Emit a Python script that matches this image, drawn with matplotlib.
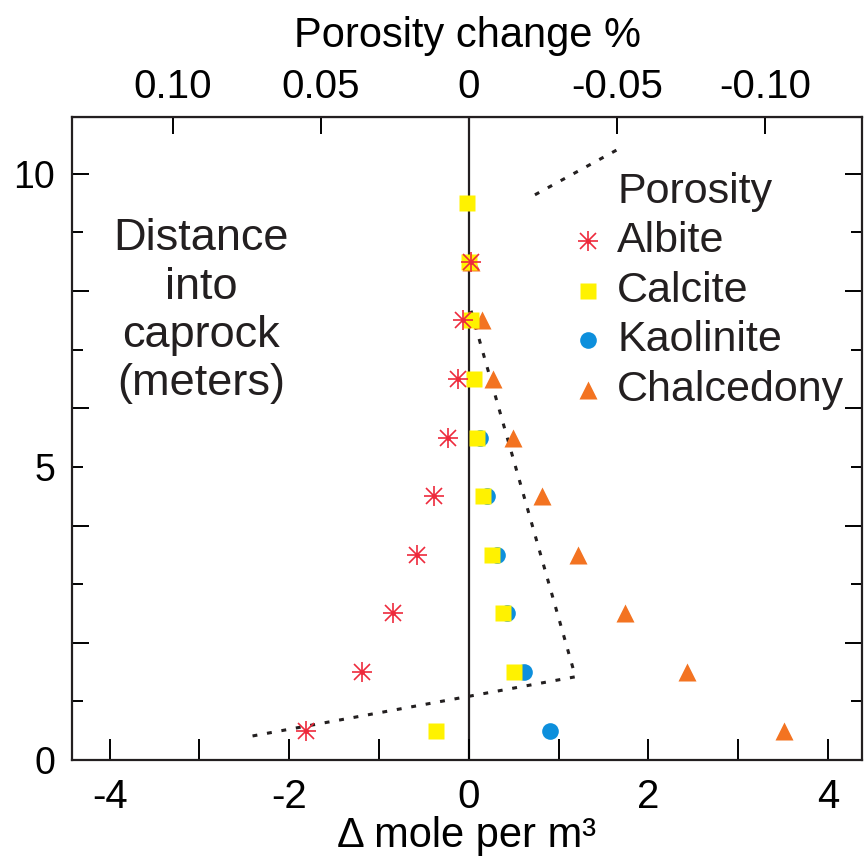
import matplotlib
matplotlib.use('Agg')
import matplotlib.pyplot as plt
from matplotlib.ticker import FixedLocator

plt.rcParams['axes.unicode_minus'] = False

NARROW = ['Liberation Sans Narrow', 'Liberation Sans', 'DejaVu Sans']
WIDE = ['Liberation Sans', 'DejaVu Sans']

# depth of each cell centre into the caprock (m)
depth = [0.5, 1.5, 2.5, 3.5, 4.5, 5.5, 6.5, 7.5, 8.5, 9.5]

# change in moles per m3 for each mineral
albite = [-1.81, -1.19, -0.84, -0.58, -0.39, -0.23, -0.12, -0.06, 0.02]
calcite = [-0.36, 0.50, 0.38, 0.26, 0.16, 0.09, 0.06, 0.03, 0.00, -0.02]
kaolinite = [0.91, 0.61, 0.43, 0.31, 0.20, 0.12]
chalcedony = [3.51, 2.43, 1.74, 1.22, 0.81, 0.49, 0.27, 0.15, 0.03]

# porosity change (%)
por_depth = [0.41, 1.42, 7.8]
por_change = [0.073, -0.036, 0.0]

por_ticks = [0.10, 0.05, 0, -0.05, -0.10]
por_labels = ['0.10', '0.05', '0', '-0.05', '-0.10']
x_ticks = [-4, -3, -2, -1, 0, 1, 2, 3, 4]
x_labels = ['-4', '', '-2', '', '0', '', '2', '', '4']

SCALE = 33.0  # mole/m3 units per 1 % porosity on the top axis


def por_to_mole(p):
    return -SCALE * p


def mole_to_por(x):
    return -x / SCALE


red = '#ee2a3c'
yellow = '#fff200'
blue = '#0d8fdc'
orange = '#f37321'
ink = '#231f20'
dots = (0, (1.6, 3.2))

fig = plt.figure(figsize=(8.64, 8.61), dpi=100)
ax = fig.add_axes([72 / 864, 1 - 760 / 861, 790 / 864, 643 / 861])
ax.set_xlim(-4.42, 4.38)
ax.set_ylim(0, 10.97)

ax.axvline(0, color=ink, lw=1.6, zorder=1)

# porosity profile (top axis)
ax.plot([por_to_mole(p) for p in por_change], por_depth, color=ink,
        lw=2.2, ls=dots, zorder=2)

ax.plot(kaolinite, depth[:len(kaolinite)], 'o', color=blue, ms=12, mec='none', zorder=3)
ax.plot(chalcedony, depth[:len(chalcedony)], '^', color=orange, ms=13, mec='none', zorder=4)
ax.plot(calcite, depth[:len(calcite)], 's', color=yellow, ms=11.5, mec='none', zorder=5)
ax.plot(albite, depth[:len(albite)], '+', color=red, ms=14, mew=1.2, zorder=6)
ax.plot(albite, depth[:len(albite)], 'x', color=red, ms=11, mew=1.2, zorder=6)
ax.plot(albite, depth[:len(albite)], '.', color=red, ms=5, zorder=6)

# bottom axis
ax.xaxis.set_major_locator(FixedLocator(x_ticks))
ax.set_xticklabels(x_labels, family=NARROW, fontsize=29)
ax.set_xlabel('Δ mole per m³', family=NARROW, fontsize=30, labelpad=0)

# left / right axis: long ticks on even, short on odd
ax.yaxis.set_major_locator(FixedLocator([0, 2, 4, 6, 8, 10]))
ax.yaxis.set_minor_locator(FixedLocator([1, 3, 5, 7, 9]))
ax.set_yticklabels(['0', '', '', '', '', '10'], family=WIDE, fontsize=27)
ax.set_yticklabels(['', '', '5', '', ''], minor=True, family=WIDE, fontsize=27)

ax.tick_params(axis='x', which='major', direction='in', length=15, width=1.4,
               pad=13, top=False)
ax.tick_params(axis='y', which='major', direction='in', length=12, width=1.4,
               pad=12, right=True)
ax.tick_params(axis='y', which='minor', direction='in', length=8, width=1.4,
               pad=12, right=True)
for s in ax.spines.values():
    s.set_linewidth(1.6)
    s.set_color(ink)

# top axis: porosity change
sec = ax.secondary_xaxis('top', functions=(mole_to_por, por_to_mole))
sec.set_xticks(por_ticks)
sec.set_xticklabels(por_labels, family=NARROW, fontsize=29)
sec.tick_params(direction='in', length=12, width=1.4, pad=8)
sec.set_xlabel('Porosity change %', family=NARROW, fontsize=30, labelpad=15)

# y-axis title written inside the plot
ax.text(0.163, 0.698, 'Distance\ninto\ncaprock\n(meters)', transform=ax.transAxes,
        ha='center', va='center', family=WIDE, fontsize=32.5, linespacing=1.23,
        color=ink)

# legend drawn by hand
names = ['Porosity', 'Albite', 'Calcite', 'Kaolinite', 'Chalcedony']
rows = [0.884, 0.807, 0.730, 0.653, 0.576]
for name, yy in zip(names, rows):
    ax.text(0.690, yy, name, transform=ax.transAxes, ha='left', va='center',
            family=WIDE, fontsize=31, color=ink)
ax.plot([0.586, 0.690], [0.879, 0.949], transform=ax.transAxes, color=ink,
        lw=2.2, ls=dots, clip_on=False)
lx = 0.653
ax.plot([lx], [rows[1]], '+', color=red, ms=14, mew=1.2, transform=ax.transAxes)
ax.plot([lx], [rows[1]], 'x', color=red, ms=11, mew=1.2, transform=ax.transAxes)
ax.plot([lx], [rows[1]], '.', color=red, ms=5, transform=ax.transAxes)
ax.plot([lx], [rows[2]], 's', color=yellow, ms=11.5, mec='none', transform=ax.transAxes)
ax.plot([lx], [rows[3]], 'o', color=blue, ms=12, mec='none', transform=ax.transAxes)
ax.plot([lx], [rows[4]], '^', color=orange, ms=13, mec='none', transform=ax.transAxes)

fig.savefig('out.png', dpi=100)
